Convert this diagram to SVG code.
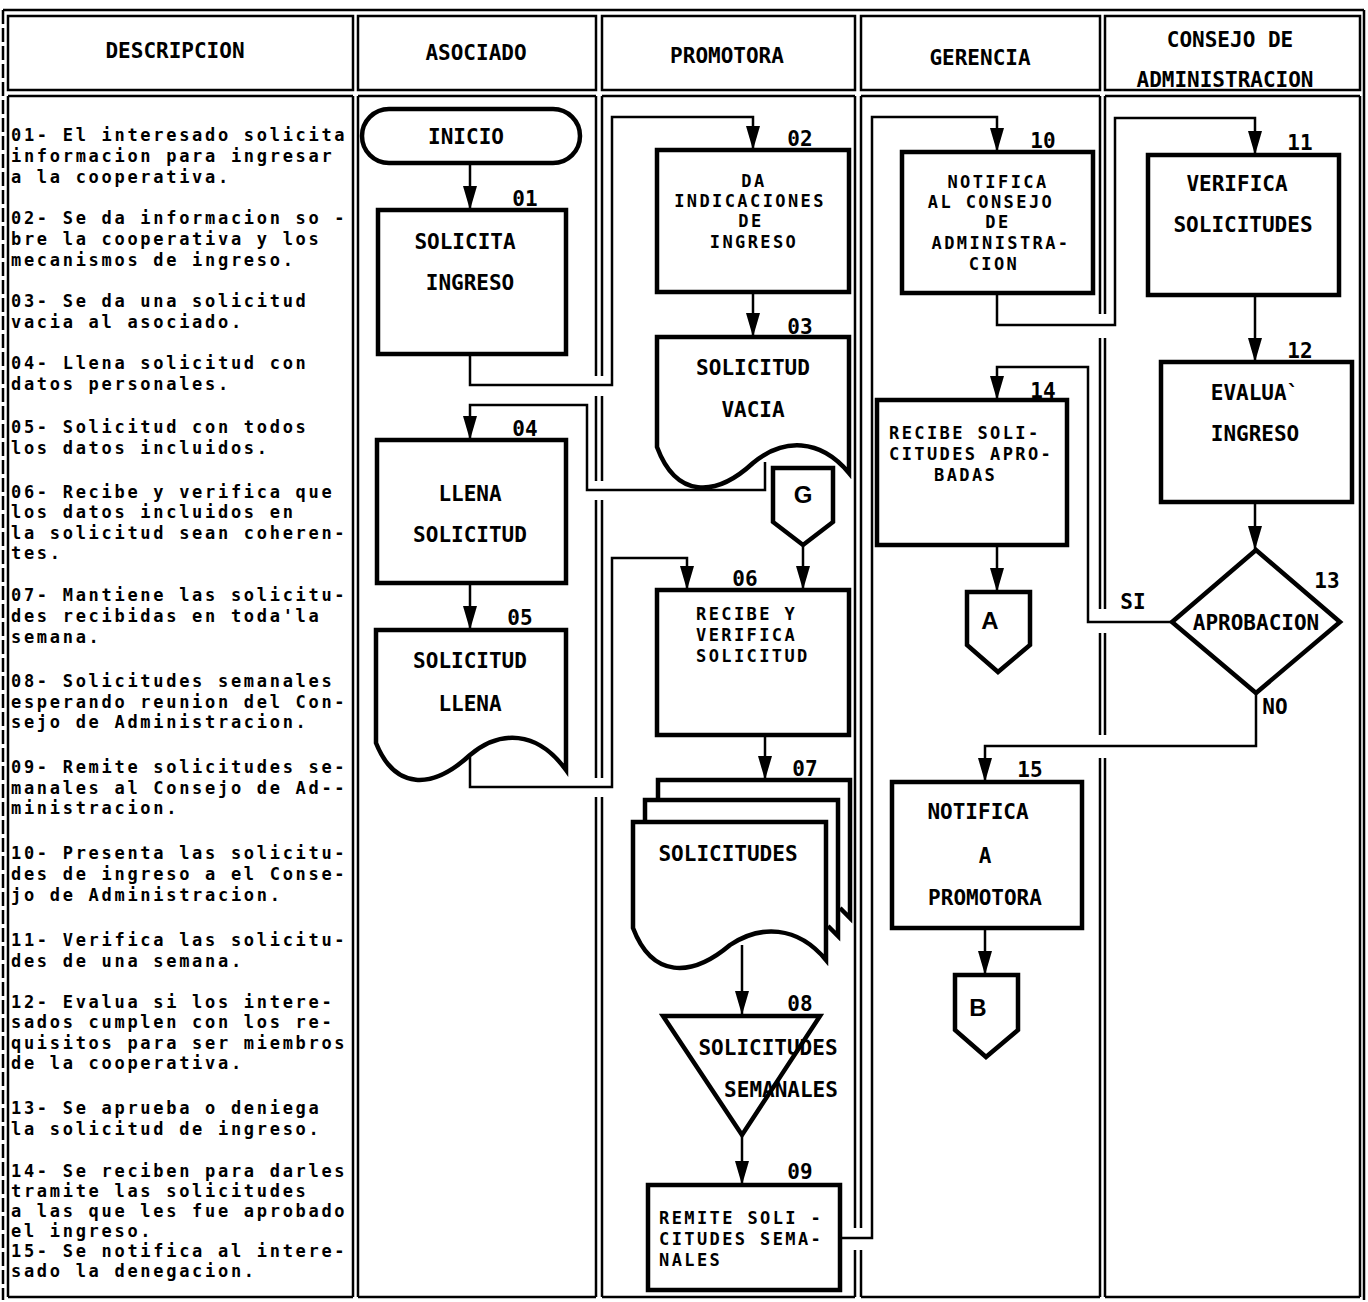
<svg xmlns="http://www.w3.org/2000/svg" width="1368" height="1302" viewBox="0 0 1368 1302">
<defs>
<style>
.frame{fill:none;stroke:#000;stroke-width:2.5}
.node{fill:#fff;stroke:#000;stroke-width:4.5;stroke-linejoin:miter}
.conn{fill:none;stroke:#000;stroke-width:2.5}
.t{font-family:"DejaVu Sans Mono","Liberation Mono",monospace;font-weight:bold;font-size:21px;fill:#000}
.tt{font-family:"DejaVu Sans Mono","Liberation Mono",monospace;font-weight:bold;font-size:17px;letter-spacing:2.4px;fill:#000}
.c{text-anchor:middle}
.d{font-family:"DejaVu Sans Mono","Liberation Mono",monospace;font-weight:bold;font-size:17px;letter-spacing:2.7px;fill:#000}
.o{font-family:"Liberation Sans",Arial,sans-serif;font-weight:bold;font-size:24px;text-anchor:middle;fill:#000}
</style>
<marker id="ah" viewBox="0 -7 24 14" refX="24" refY="0" markerWidth="24" markerHeight="14" markerUnits="userSpaceOnUse" orient="auto"><path d="M0,-7 L24,0 L0,7 Z" fill="#000"/></marker>
</defs>
<rect x="0" y="0" width="1368" height="1302" fill="#fff"/>

<g id="frame" class="frame">
<line x1="3" y1="10" x2="1364" y2="10"/>
<line x1="3" y1="10" x2="3" y2="1300" stroke-dasharray="14 4"/>
<line x1="1364" y1="10" x2="1364" y2="1300"/>
<rect x="8" y="16" width="345" height="74"/>
<rect x="358" y="16" width="238" height="74"/>
<rect x="602" y="16" width="253" height="74"/>
<rect x="861" y="16" width="239" height="74"/>
<rect x="1105" y="16" width="255" height="74"/>
<path d="M8,96 H353 M358,96 H596 M602,96 H855 M861,96 H1100 M1105,96 H1360"/>
<path d="M8,1297 H353 M358,1297 H596 M602,1297 H855 M861,1297 H1100 M1105,1297 H1360"/>
<path d="M8,96 V1297 M353,96 V1297 M358,96 V1297 M1360,96 V1297"/>
<path d="M596,96 V376 M596,396 V481 M596,500 V778 M596,797 V1297"/>
<path d="M602,96 V376 M602,396 V481 M602,500 V778 M602,797 V1297"/>
<path d="M855,96 V1228 M855,1250 V1297 M861,96 V1228 M861,1250 V1297"/>
<path d="M1100,96 V314 M1100,338 V609 M1100,633 V735 M1100,758 V1297"/>
<path d="M1105,96 V314 M1105,338 V609 M1105,633 V735 M1105,758 V1297"/>
</g>

<g id="headers" class="t c">
<text x="175" y="58">DESCRIPCION</text>
<text x="476" y="60">ASOCIADO</text>
<text x="727" y="63">PROMOTORA</text>
<text x="980" y="65">GERENCIA</text>
<text x="1230" y="47">CONSEJO DE</text>
<text x="1225" y="87">ADMINISTRACION</text>
</g>

<g id="descripcion" class="d">
<text x="11" y="141">01- El interesado solicita</text>
<text x="11" y="162">informacion para ingresar</text>
<text x="11" y="183">a la cooperativa.</text>
<text x="11" y="224">02- Se da informacion so -</text>
<text x="11" y="245">bre la cooperativa y los</text>
<text x="11" y="266">mecanismos de ingreso.</text>
<text x="11" y="307">03- Se da una solicitud</text>
<text x="11" y="328">vacia al asociado.</text>
<text x="11" y="369">04- Llena solicitud con</text>
<text x="11" y="390">datos personales.</text>
<text x="11" y="433">05- Solicitud con todos</text>
<text x="11" y="454">los datos incluidos.</text>
<text x="11" y="498">06- Recibe y verifica que</text>
<text x="11" y="518">los datos incluidos en</text>
<text x="11" y="539">la solicitud sean coheren-</text>
<text x="11" y="559">tes.</text>
<text x="11" y="601">07- Mantiene las solicitu-</text>
<text x="11" y="622">des recibidas en toda'la</text>
<text x="11" y="643">semana.</text>
<text x="11" y="687">08- Solicitudes semanales</text>
<text x="11" y="708">esperando reunion del Con-</text>
<text x="11" y="728">sejo de Administracion.</text>
<text x="11" y="773">09- Remite solicitudes se-</text>
<text x="11" y="794">manales al Consejo de Ad--</text>
<text x="11" y="814">ministracion.</text>
<text x="11" y="859">10- Presenta las solicitu-</text>
<text x="11" y="880">des de ingreso a el Conse-</text>
<text x="11" y="901">jo de Administracion.</text>
<text x="11" y="946">11- Verifica las solicitu-</text>
<text x="11" y="967">des de una semana.</text>
<text x="11" y="1008">12- Evalua si los intere-</text>
<text x="11" y="1028">sados cumplen con los re-</text>
<text x="11" y="1049">quisitos para ser miembros</text>
<text x="11" y="1069">de la cooperativa.</text>
<text x="11" y="1114">13- Se aprueba o deniega</text>
<text x="11" y="1135">la solicitud de ingreso.</text>
<text x="11" y="1177">14- Se reciben para darles</text>
<text x="11" y="1197">tramite las solicitudes</text>
<text x="11" y="1217">a las que les fue aprobado</text>
<text x="11" y="1237">el ingreso.</text>
<text x="11" y="1257">15- Se notifica al intere-</text>
<text x="11" y="1277">sado la denegacion.</text>
</g>

<g id="connectors" class="conn">
<path d="M470,163 V210" marker-end="url(#ah)"/>
<path d="M470,354 V385 H612 V117 H753 V150" marker-end="url(#ah)"/>
<path d="M753,292 V337" marker-end="url(#ah)"/>
<path d="M765,462 V490 H587 V405 H470 V440" marker-end="url(#ah)"/>
<path d="M470,583 V630" marker-end="url(#ah)"/>
<path d="M470,757 V787 H612 V558 H687 V590" marker-end="url(#ah)"/>
<path d="M803,545 V590" marker-end="url(#ah)"/>
<path d="M765,735 V780" marker-end="url(#ah)"/>
<path d="M742,945 V1015" marker-end="url(#ah)"/>
<path d="M742,1135 V1185" marker-end="url(#ah)"/>
<path d="M840,1238 H872 V117 H997 V152" marker-end="url(#ah)"/>
<path d="M997,293 V325 H1115 V118 H1255 V155" marker-end="url(#ah)"/>
<path d="M1255,295 V362" marker-end="url(#ah)"/>
<path d="M1255,502 V550" marker-end="url(#ah)"/>
<path d="M1172,622 H1088 V367 H997 V400" marker-end="url(#ah)"/>
<path d="M1256,693 V746 H985 V782" marker-end="url(#ah)"/>
<path d="M997,545 V592" marker-end="url(#ah)"/>
<path d="M985,928 V975" marker-end="url(#ah)"/>
</g>

<g id="labels" class="t c">
<text x="1133" y="609">SI</text>
<text x="1275" y="714">NO</text>
</g>

<g id="inicio">
<rect class="node" x="362" y="109" width="218" height="54" rx="27"/>
<text class="t c" x="466" y="144">INICIO</text>
</g>

<g id="n01">
<rect class="node" x="378" y="210" width="188" height="144"/>
<text class="t c" x="525" y="206">01</text>
<text class="t c" x="465" y="249">SOLICITA</text>
<text class="t c" x="470" y="290">INGRESO</text>
</g>

<g id="n02">
<rect class="node" x="657" y="150" width="192" height="142"/>
<text class="t c" x="800" y="146">02</text>
<text class="tt c" x="754" y="187">DA</text>
<text class="tt c" x="750" y="207">INDICACIONES</text>
<text class="tt c" x="751" y="227">DE</text>
<text class="tt c" x="754" y="248">INGRESO</text>
</g>

<g id="n03">
<path class="node" d="M657,337 H849 V473 C820,438 783,438 753,463 C715,498 676,498 657,447 Z"/>
<text class="t c" x="800" y="334">03</text>
<text class="t c" x="753" y="375">SOLICITUD</text>
<text class="t c" x="753" y="417">VACIA</text>
</g>

<g id="g">
<path class="node" d="M773,468 H833 V522 L803,545 L773,522 Z"/>
<text class="o" x="803" y="503">G</text>
</g>

<g id="n04">
<rect class="node" x="377" y="440" width="189" height="143"/>
<text class="t c" x="525" y="436">04</text>
<text class="t c" x="470" y="501">LLENA</text>
<text class="t c" x="470" y="542">SOLICITUD</text>
</g>

<g id="n05">
<path class="node" d="M376,630 H566 V770 C537,730 500,730 470,755 C432,790 395,790 376,743 Z"/>
<text class="t c" x="520" y="625">05</text>
<text class="t c" x="470" y="668">SOLICITUD</text>
<text class="t c" x="470" y="711">LLENA</text>
</g>

<g id="n06">
<rect class="node" x="657" y="590" width="192" height="145"/>
<text class="t c" x="745" y="586">06</text>
<text class="tt" x="696" y="620">RECIBE Y</text>
<text class="tt" x="696" y="641">VERIFICA</text>
<text class="tt" x="696" y="662">SOLICITUD</text>
</g>

<g id="n07">
<path class="node" d="M658,800 V780 H850 V918 L840,908"/>
<path class="node" d="M645,822 V800 H838 V936 L828,926"/>
<path class="node" d="M633,822 H826 V960 C797,925 760,925 730,945 C691,978 652,978 633,928 Z"/>
<text class="t c" x="805" y="776">07</text>
<text class="t c" x="728" y="861">SOLICITUDES</text>
</g>

<g id="n08">
<path class="node" d="M663,1016 H820 L742,1135 Z"/>
<text class="t c" x="800" y="1011">08</text>
<text class="t c" x="768" y="1055">SOLICITUDES</text>
<text class="t c" x="781" y="1097">SEMANALES</text>
</g>

<g id="n09">
<rect class="node" x="648" y="1185" width="192" height="105"/>
<text class="t c" x="800" y="1179">09</text>
<text class="tt" x="659" y="1224">REMITE SOLI -</text>
<text class="tt" x="659" y="1245">CITUDES SEMA-</text>
<text class="tt" x="659" y="1266">NALES</text>
</g>

<g id="n10">
<rect class="node" x="902" y="152" width="191" height="141"/>
<text class="t c" x="1043" y="148">10</text>
<text class="tt c" x="998" y="188">NOTIFICA</text>
<text class="tt c" x="991" y="208">AL CONSEJO</text>
<text class="tt c" x="998" y="228">DE</text>
<text class="tt c" x="1001" y="249">ADMINISTRA-</text>
<text class="tt c" x="994" y="270">CION</text>
</g>

<g id="n11">
<rect class="node" x="1148" y="155" width="191" height="140"/>
<text class="t c" x="1300" y="150">11</text>
<text class="t c" x="1237" y="191">VERIFICA</text>
<text class="t c" x="1243" y="232">SOLICITUDES</text>
</g>

<g id="n12">
<rect class="node" x="1161" y="362" width="191" height="140"/>
<text class="t c" x="1300" y="358">12</text>
<text class="t c" x="1255" y="400">EVALUA`</text>
<text class="t c" x="1255" y="441">INGRESO</text>
</g>

<g id="n13">
<path class="node" d="M1256,550 L1340,622 L1256,693 L1172,622 Z"/>
<text class="t c" x="1327" y="588">13</text>
<text class="t c" x="1256" y="630">APROBACION</text>
</g>

<g id="n14">
<rect class="node" x="877" y="400" width="190" height="145"/>
<text class="t c" x="1043" y="398">14</text>
<text class="tt" x="889" y="439">RECIBE SOLI-</text>
<text class="tt" x="889" y="460">CITUDES APRO-</text>
<text class="tt" x="934" y="481">BADAS</text>
</g>

<g id="a">
<path class="node" d="M967,592 H1030 V645 L998,672 L967,645 Z"/>
<text class="o" x="990" y="629">A</text>
</g>

<g id="n15">
<rect class="node" x="892" y="782" width="190" height="146"/>
<text class="t c" x="1030" y="777">15</text>
<text class="t c" x="978" y="819">NOTIFICA</text>
<text class="t c" x="985" y="863">A</text>
<text class="t c" x="985" y="905">PROMOTORA</text>
</g>

<g id="b">
<path class="node" d="M955,975 H1018 V1030 L986,1057 L955,1030 Z"/>
<text class="o" x="978" y="1016">B</text>
</g>
</svg>
